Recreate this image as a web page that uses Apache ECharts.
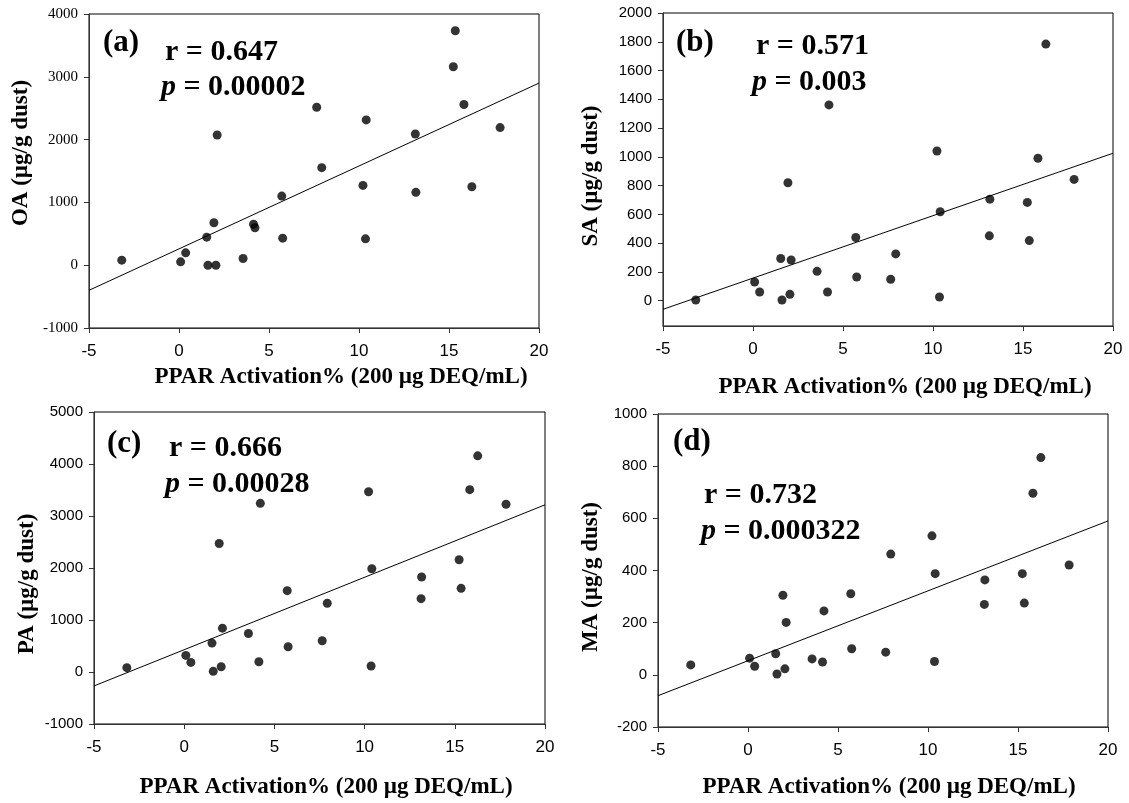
<!DOCTYPE html>
<html>
<head>
<meta charset="utf-8">
<script src="https://cdn.jsdelivr.net/npm/echarts@6/dist/echarts.min.js"></script>
<style>
  html, body { margin: 0; padding: 0; background: #fff; }
  #chart { width: 1129px; height: 803px; }
</style>
</head>
<body>
<div id="chart"></div>
<script>
// PPAR activation (%) of each dust sample, shared by all four panels
const ppar = [-3.18, 0.09, 0.37, 1.54, 1.61, 1.94, 2.05, 2.12, 3.56, 4.14, 4.22, 5.71, 5.76,
  7.65, 7.93, 10.22, 10.36, 10.40, 13.13, 13.16, 15.24, 15.35, 15.83, 16.27, 17.84];

// concentrations (µg/g dust)
const oa = [80, 53, 197, 447, 0, 676, 0, 2074, 106, 654, 596, 1101, 431,
  2516, 1553, 1271, 420, 2314, 2090, 1160, 3160, 3734, 2559, 1250, 2191];
const sa = [5, 130, 60, 293, 5, 820, 44, 283, 204, 60, 1361, 439, 165,
  149, 325, 1041, 26, 618, 451, 706, 683, 418, 990, 1784, 843];
const pa = [83, 319, 185, 556, 13, 2471, 102, 843, 741, 198, 3244, 1564, 485,
  600, 1322, 3467, 115, 1986, 1411, 1826, 2158, 1609, 3506, 4157, 3225];
const ma = [38, 64, 33, 81, 3, 305, 23, 201, 61, 49, 245, 311, 100,
  87, 463, 533, 51, 388, 270, 364, 388, 275, 696, 833, 421];

// regression lines, read at x = -5 and x = 20
const fitX = [-5, 20];
const fitOA = [-400, 2900];
const fitSA = [-60, 1025];
const fitPA = [-268, 3215];
const fitMA = [-80, 590];

// axis tick labels
const xTicks = [-5, 0, 5, 10, 15, 20];
const oaTicks = [-1000, 0, 1000, 2000, 3000, 4000];
const saTicks = [0, 200, 400, 600, 800, 1000, 1200, 1400, 1600, 1800, 2000];
const paTicks = [-1000, 0, 1000, 2000, 3000, 4000, 5000];
const maTicks = [-200, 0, 200, 400, 600, 800, 1000];

const panels = [
  { y: oa, fit: fitOA, ticks: oaTicks, min: -1000, max: 4000, yFont: 'Liberation Serif',
    grid: { left: 89, top: 14, width: 450, height: 314 },
    tag: '(a)', r: 'r = 0.647', p: '0.00002', yName: 'OA (µg/g dust)',
    tagPos: [103, 43], rPos: [165, 52], pPos: [161, 87], xNamePos: [341, 377], yNamePos: [21, 153] },
  { y: sa, fit: fitSA, ticks: saTicks, min: -176, max: 2000, yFont: 'Liberation Sans',
    grid: { left: 663, top: 13, width: 450, height: 313 },
    tag: '(b)', r: 'r = 0.571', p: '0.003', yName: 'SA (µg/g dust)',
    tagPos: [676, 43], rPos: [756, 46], pPos: [752, 82], xNamePos: [905, 387], yNamePos: [591, 176] },
  { y: pa, fit: fitPA, ticks: paTicks, min: -1000, max: 5000, yFont: 'Liberation Sans',
    grid: { left: 94, top: 412, width: 451, height: 312 },
    tag: '(c)', r: 'r = 0.666', p: '0.00028', yName: 'PA (µg/g dust)',
    tagPos: [107, 444], rPos: [169, 448], pPos: [165, 484], xNamePos: [326, 787], yNamePos: [27, 584] },
  { y: ma, fit: fitMA, ticks: maTicks, min: -200, max: 1000, yFont: 'Liberation Sans',
    grid: { left: 658, top: 414, width: 450, height: 313 },
    tag: '(d)', r: 'r = 0.732', p: '0.000322', yName: 'MA (µg/g dust)',
    tagPos: [673, 442], rPos: [704, 495], pPos: [701, 531], xNamePos: [889, 787], yNamePos: [591, 577] }
];

const font = s => 'bold ' + s + 'px "Liberation Serif", "Times New Roman", serif';
const plain = v => String(v);

const grids = [], xAxes = [], yAxes = [], series = [], graphics = [];

panels.forEach((pn, i) => {
  grids.push(Object.assign({ show: true, borderColor: '#000', borderWidth: 1 }, pn.grid));
  xAxes.push({
    type: 'value', gridIndex: i, min: -5, max: 20,
    splitLine: { show: false },
    axisLine: { onZero: false, lineStyle: { color: '#333', width: 1 } },
    axisTick: { inside: false, length: 5, lineStyle: { color: '#333' }, customValues: xTicks },
    axisLabel: { customValues: xTicks, formatter: plain, color: '#000', fontSize: 17,
      fontFamily: 'Liberation Sans', margin: 15 }
  });
  yAxes.push({
    type: 'value', gridIndex: i, min: pn.min, max: pn.max,
    splitLine: { show: false },
    axisLine: { onZero: false, lineStyle: { color: '#333', width: 1 } },
    axisTick: { inside: false, length: 5, lineStyle: { color: '#333' }, customValues: pn.ticks },
    axisLabel: { customValues: pn.ticks, formatter: plain, color: '#000', fontSize: 15,
      fontFamily: pn.yFont, margin: 11 }
  });
  series.push({
    type: 'scatter', xAxisIndex: i, yAxisIndex: i,
    data: ppar.map((x, k) => [x, pn.y[k]]),
    symbolSize: 9, itemStyle: { color: '#000' }, z: 3
  });
  series.push({
    type: 'line', xAxisIndex: i, yAxisIndex: i,
    data: fitX.map((x, k) => [x, pn.fit[k]]),
    symbol: 'none', lineStyle: { color: '#000', width: 1 }, z: 2
  });

  graphics.push({ type: 'text', style: { text: pn.tag, x: pn.tagPos[0], y: pn.tagPos[1],
    font: font(31), fill: '#000', verticalAlign: 'middle' } });
  graphics.push({ type: 'text', style: { text: pn.r, x: pn.rPos[0], y: pn.rPos[1],
    font: font(30), fill: '#000', verticalAlign: 'middle' } });
  graphics.push({ type: 'text', style: {
    text: '{i|p} = ' + pn.p, x: pn.pPos[0], y: pn.pPos[1], verticalAlign: 'middle',
    font: font(30), fill: '#000',
    rich: { i: { fontStyle: 'italic', fontWeight: 'bold', fontSize: 30,
      fontFamily: '"Liberation Serif", serif', fill: '#000' } } } });
  graphics.push({ type: 'text', style: { text: 'PPAR Activation% (200 µg DEQ/mL)',
    x: pn.xNamePos[0], y: pn.xNamePos[1], font: font(23), fill: '#000',
    align: 'center', verticalAlign: 'middle' } });
  graphics.push({ type: 'text', x: pn.yNamePos[0], y: pn.yNamePos[1], rotation: Math.PI / 2,
    style: { text: pn.yName, x: 0, y: 0, font: font(23), fill: '#000',
      align: 'center', verticalAlign: 'middle' } });
});

const chart = echarts.init(document.getElementById('chart'), null, { renderer: 'canvas' });
chart.setOption({
  backgroundColor: '#fff',
  animation: false,
  grid: grids,
  xAxis: xAxes,
  yAxis: yAxes,
  series: series,
  graphic: graphics
});
</script>
</body>
</html>
